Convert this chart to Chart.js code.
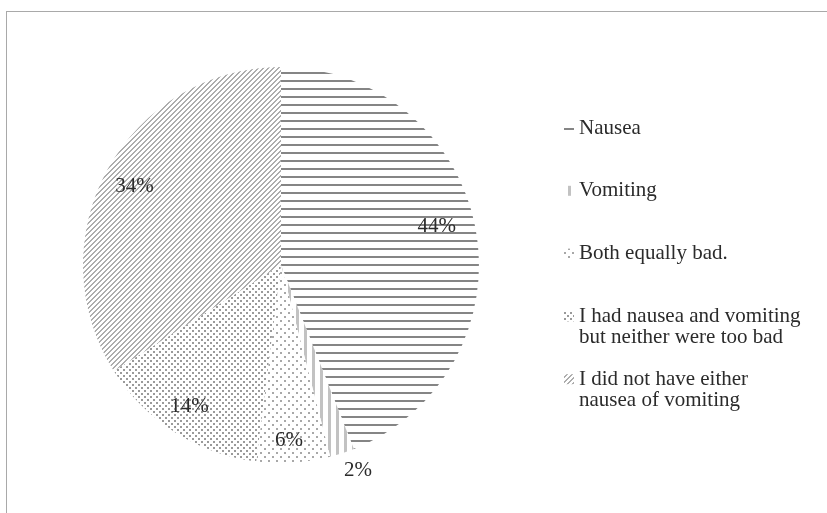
<!DOCTYPE html>
<html>
<head>
<meta charset="utf-8">
<script src="https://cdn.jsdelivr.net/npm/chart.js"></script>
<style>
    html, body { margin: 0; padding: 0; background: #fff; overflow: hidden; }
    #wrap { position: relative; width: 827px; height: 513px; }
    #frame {
        position: absolute; left: 6px; top: 11px; width: 900px; height: 600px;
        border: 1px solid #a9a9a9; box-sizing: border-box;
    }
    #pie { position: absolute; left: 0; top: 0; }
</style>
</head>
<body>
<div id="wrap">
    <div id="frame"></div>
    <canvas id="pie" width="827" height="513"></canvas>
</div>
<script>
const categories = [
    ['Nausea'],
    ['Vomiting'],
    ['Both equally bad.'],
    ['I had nausea and vomiting', 'but neither were too bad'],
    ['I did not have either', 'nausea of vomiting']
];
const shares = [44, 2, 6, 14, 34];

// where each percentage sits: fraction of the radius, plus a small turn in degrees
const labelPos = [
    { r: 0.81, turn: -3 },
    { r: 1.11, turn: -2.5 },
    { r: 0.885, turn: 1 },
    { r: 0.85, turn: 0.5 },
    { r: 0.84, turn: -0.5 }
];

const FONT = '"Liberation Serif", "Times New Roman", serif';
const TEXT = '#2b2b2b';

const canvas = document.getElementById('pie');
const ctx = canvas.getContext('2d');

function makePattern(w, h, draw) {
    const c = document.createElement('canvas');
    c.width = w;
    c.height = h;
    const g = c.getContext('2d');
    g.fillStyle = '#fff';
    g.fillRect(0, 0, w, h);
    draw(g);
    return ctx.createPattern(c, 'repeat');
}

const fills = [
    // horizontal lines
    makePattern(8, 8, function (g) {
        g.fillStyle = '#858585';
        g.fillRect(0, 0, 8, 2);
    }),
    // vertical lines
    makePattern(8, 8, function (g) {
        g.fillStyle = '#c2c2c2';
        g.fillRect(0, 0, 3, 8);
    }),
    // sparse dots
    makePattern(8, 8, function (g) {
        g.fillStyle = '#a8a8a8';
        g.fillRect(0, 0, 2, 2);
        g.fillRect(4, 4, 2, 2);
    }),
    // dense dots
    makePattern(6, 6, function (g) {
        g.fillStyle = '#9a9a9a';
        g.fillRect(0, 0, 2, 2);
        g.fillRect(3, 3, 2, 2);
    }),
    // diagonal stripes
    makePattern(5, 5, function (g) {
        g.fillStyle = '#adadad';
        for (let y = 0; y < 5; y++) {
            for (let x = 0; x < 5; x++) {
                if ((x + y) % 5 < 2) g.fillRect(x, y, 1, 1);
            }
        }
    })
];

const pctLabels = {
    id: 'pctLabels',
    afterDatasetsDraw(chart) {
        const c = chart.ctx;
        const arcs = chart.getDatasetMeta(0).data;
        c.save();
        c.font = '21px ' + FONT;
        c.fillStyle = TEXT;
        c.textAlign = 'center';
        c.textBaseline = 'middle';
        arcs.forEach(function (arc, i) {
            const p = arc.getProps(['x', 'y', 'startAngle', 'endAngle', 'outerRadius'], true);
            const a = (p.startAngle + p.endAngle) / 2 + labelPos[i].turn * Math.PI / 180;
            const d = p.outerRadius * labelPos[i].r;
            c.fillText(shares[i] + '%', p.x + d * Math.cos(a), p.y + d * Math.sin(a));
        });
        c.restore();
    }
};

// legend drawn by hand so that long names can wrap onto two lines
const sideLegend = {
    id: 'sideLegend',
    afterDraw(chart) {
        const c = chart.ctx;
        c.save();
        c.font = '21px ' + FONT;
        c.textBaseline = 'middle';
        categories.forEach(function (lines, i) {
            const y = 128 + i * 62.8;
            c.fillStyle = fills[i];
            c.fillRect(564, y - 5, 10, 10);
            c.fillStyle = TEXT;
            lines.forEach(function (t, j) {
                c.fillText(t, 579, y + j * 21);
            });
        });
        c.restore();
    }
};

new Chart(canvas, {
    type: 'pie',
    data: {
        labels: categories.map(function (l) { return l.join(' '); }),
        datasets: [{
            data: shares,
            backgroundColor: fills,
            borderWidth: 0
        }]
    },
    options: {
        responsive: false,
        animation: false,
        layout: { padding: { left: 83, right: 348, top: 67, bottom: 50 } },
        plugins: {
            legend: { display: false },
            tooltip: { enabled: false }
        }
    },
    plugins: [pctLabels, sideLegend]
});
</script>
</body>
</html>
